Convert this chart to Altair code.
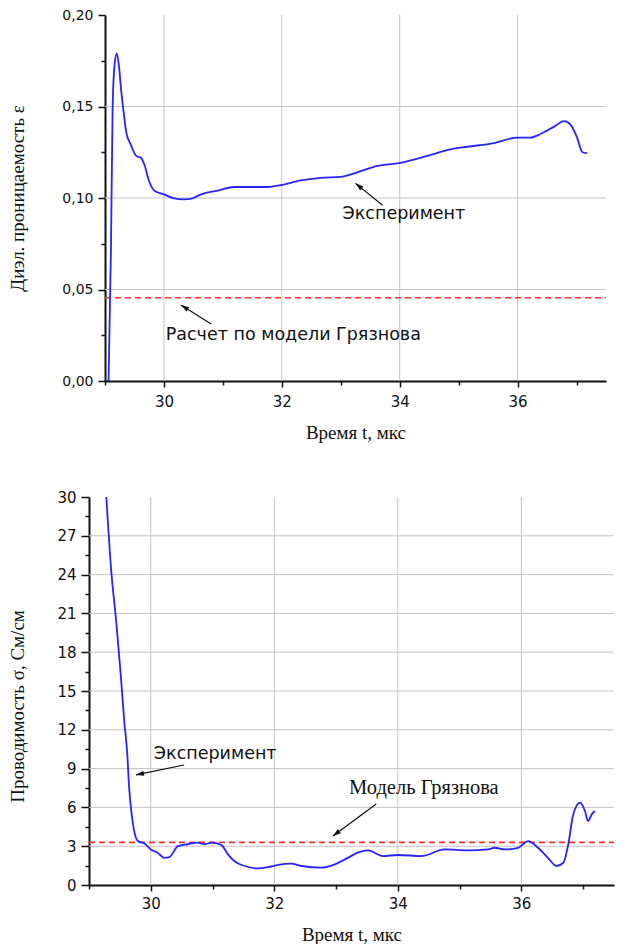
import altair as alt
import pandas as pd

# ---------------- data ----------------
# Top panel: dielectric permittivity vs time
t_eps = [29.06, 29.10, 29.13, 29.16, 29.20, 29.24, 29.28, 29.32, 29.36, 29.44, 29.53,
         29.61, 29.67, 29.75, 29.84, 30.00, 30.17, 30.34, 30.48, 30.63, 30.91, 31.19,
         31.42, 31.76, 31.98, 32.32, 32.66, 33.00, 33.28, 33.62, 33.99, 34.47, 34.86,
         35.15, 35.60, 35.99, 36.22, 36.39, 36.62, 36.79, 36.90, 37.01, 37.10, 37.18]
eps = [0.0, 0.07, 0.15, 0.172, 0.179, 0.171, 0.157, 0.146, 0.136, 0.129, 0.123,
       0.122, 0.118, 0.109, 0.104, 0.102, 0.0998, 0.0992, 0.0998, 0.102, 0.104, 0.106,
       0.106, 0.106, 0.107, 0.1096, 0.111, 0.1115, 0.114, 0.1175, 0.119, 0.123, 0.1266,
       0.128, 0.130, 0.133, 0.133, 0.135, 0.139, 0.142, 0.140, 0.133, 0.125, 0.1245]
eps_model = 0.0455

# Bottom panel: conductivity vs time
t_sig = [29.28, 29.36, 29.44, 29.51, 29.57, 29.62, 29.65, 29.69, 29.73, 29.79, 29.90,
         30.00, 30.11, 30.22, 30.30, 30.44, 30.60, 30.76, 30.87, 30.98, 31.14, 31.25,
         31.35, 31.52, 31.73, 31.90, 32.06, 32.27, 32.44, 32.76, 32.98, 33.19, 33.35,
         33.52, 33.76, 34.00, 34.38, 34.76, 35.14, 35.46, 35.57, 35.73, 35.95, 36.11,
         36.27, 36.43, 36.57, 36.68, 36.76, 36.84, 36.95, 37.03, 37.08, 37.14, 37.19]
sig = [30.0, 24.3, 20.4, 16.5, 12.7, 10.1, 7.5, 5.5, 4.2, 3.4, 3.2,
       2.75, 2.5, 2.1, 2.15, 3.0, 3.15, 3.27, 3.15, 3.27, 3.1, 2.37,
       1.86, 1.47, 1.29, 1.39, 1.55, 1.65, 1.47, 1.34, 1.6, 2.1, 2.5,
       2.68, 2.24, 2.32, 2.24, 2.75, 2.68, 2.75, 2.88, 2.75, 2.88, 3.4,
       2.88, 2.1, 1.47, 1.72, 3.15, 5.46, 6.37, 5.72, 4.95, 5.46, 5.72]
sig_model = 3.3

x_domain = [29, 37.5]
x_ticks = [29, 30, 31, 32, 33, 34, 35, 36, 37]
x_grid = [30, 32, 34, 36]
eps_domain = [0, 0.2]
eps_ticks = [0, 0.025, 0.05, 0.075, 0.1, 0.125, 0.15, 0.175, 0.2]
eps_grid = [0.05, 0.10, 0.15]
sig_domain = [0, 30]
sig_ticks = [0, 1.5, 3, 4.5, 6, 7.5, 9, 10.5, 12, 13.5, 15, 16.5, 18, 19.5, 21,
             22.5, 24, 25.5, 27, 28.5, 30]
sig_grid = [3, 6, 9, 12, 15, 18, 21, 24, 27]

# annotations: (label, t, value)
top_labels = [("Эксперимент", 33.03, 0.0913), ("Расчет по модели Грязнова", 30.03, 0.0251)]
bot_labels_sans = [("Эксперимент", 30.05, 10.13)]
bot_labels_serif = [("Модель Грязнова", 33.21, 7.5)]
# arrows: tail (t, v) -> head (t2, v2)
top_arrows = [(33.71, 0.096, 33.25, 0.108), (30.80, 0.0311, 30.29, 0.0415)]
top_arrow_angles = [309, 302]
bot_arrows = [(30.54, 9.28, 29.76, 8.51), (33.65, 6.26, 32.95, 3.79)]
bot_arrow_angles = [258, 233]

# ---------------- styling ----------------
SANS = "DejaVu Sans"
SERIF = "Liberation Serif"
INK = "#111111"
BLUE = "#2a22ff"
RED = "#ff2a2a"
GRID = "#c4c4c4"
ARROW_PATH = "M0,0L-0.32,1L0.32,1Z"
SHIFT = 16  # top plot starts this many px right of the bottom one


def cond(test, yes, no):
    return {"condition": {"test": test, "value": yes}, "value": no}


X_MAJOR = "datum.value % 2 == 0"
X_LABEL = "datum.value % 2 == 0 ? format(datum.value, 'd') : ''"
EPS_MAJOR = "round(datum.value*1000) % 50 == 0"
SIG_MAJOR = "datum.value % 3 == 0"


def make_panel(t_vals, y_vals, model_val, y_domain, y_ticks, y_grid, y_major,
               y_label_expr, y_title, y_tick, y_label_size, y_title_pad,
               x_label_pad, x_title_pad, width, height, x_offset, y_offset,
               arrows, angles, labels_sans, labels_serif, title_y=None):
    xs = alt.Scale(domain=x_domain, nice=False, zero=False, range=[x_offset, width])
    ys = alt.Scale(domain=y_domain, nice=False, zero=False)
    y_extra = {"titleY": title_y} if title_y is not None else {}
    x_axis = alt.Axis(
        values=x_ticks, title="Время t, мкс", labelExpr=X_LABEL,
        labelFontSize=15, labelPadding=x_label_pad, titlePadding=x_title_pad,
        tickSize=6, tickDash=cond(X_MAJOR, [40, 0], [4, 40]),
        labelOverlap=False, labelFlush=False, grid=False,
    )
    y_axis = alt.Axis(
        values=y_ticks, title=y_title, labelExpr=y_label_expr,
        labelFontSize=y_label_size, labelPadding=5, titlePadding=y_title_pad,
        tickSize=y_tick, tickDash=cond(y_major, [40, 0], [4, 40]),
        labelOverlap=False, labelFlush=False, grid=False, offset=y_offset,
        **y_extra,
    )
    X = lambda f: alt.X(f, type="quantitative", scale=xs, axis=x_axis)
    Y = lambda f: alt.Y(f, type="quantitative", scale=ys, axis=y_axis)

    hgrid = alt.Chart(pd.DataFrame({"v": y_grid, "t": x_domain[0], "t2": x_domain[1]})
                      ).mark_rule(color=GRID, strokeWidth=1).encode(
        x=X("t"), x2="t2", y=Y("v"))
    vgrid = alt.Chart(pd.DataFrame({"t": x_grid, "v": y_domain[0], "v2": y_domain[1]})
                      ).mark_rule(color=GRID, strokeWidth=1).encode(
        x=X("t"), y=Y("v"), y2="v2")
    line = alt.Chart(pd.DataFrame({"t": t_vals, "v": y_vals})).mark_line(
        color=BLUE, strokeWidth=1.8, interpolate="monotone"
    ).encode(x=X("t"), y=Y("v"))
    model = alt.Chart(pd.DataFrame({"t": x_domain, "v": [model_val, model_val]})).mark_line(
        color=RED, strokeWidth=1.7, strokeDash=[6, 4]
    ).encode(x=X("t"), y=Y("v"))

    layers = [hgrid, vgrid, model, line]
    for (t1, v1, t2, v2), ang in zip(arrows, angles):
        df = pd.DataFrame({"t": [t1], "v": [v1], "t2": [t2], "v2": [v2]})
        layers.append(alt.Chart(df).mark_rule(color=INK, strokeWidth=1.2).encode(
            x=X("t"), y=Y("v"), x2="t2", y2="v2"))
        layers.append(alt.Chart(df).mark_point(
            shape=ARROW_PATH, filled=True, color=INK, opacity=1, size=260, angle=ang
        ).encode(x=X("t2"), y=Y("v2")))
    for labels, font, size in ((labels_sans, SANS, 17.5), (labels_serif, SERIF, 20.5)):
        if not labels:
            continue
        df = pd.DataFrame({"label": [l[0] for l in labels],
                           "t": [l[1] for l in labels],
                           "v": [l[2] for l in labels]})
        layers.append(alt.Chart(df).mark_text(
            align="left", baseline="middle", font=font, fontSize=size, color=INK
        ).encode(x=X("t"), y=Y("v"), text="label:N"))
    return alt.layer(*layers).properties(width=width, height=height)


top = make_panel(
    t_eps, eps, eps_model, eps_domain, eps_ticks, eps_grid, EPS_MAJOR,
    EPS_MAJOR + " ? replace(format(datum.value, '.2f'), '.', ',') : ''",
    "Диэл. проницаемость ε", 7, 14, 34, 7, 14, 501 + SHIFT, 366, SHIFT, -SHIFT,
    top_arrows, top_arrow_angles, top_labels, [])

bottom = make_panel(
    t_sig, sig, sig_model, sig_domain, sig_ticks, sig_grid, SIG_MAJOR,
    SIG_MAJOR + " ? format(datum.value, 'd') : ''",
    "Проводимость σ, См/см", 8, 15, 29, 5, 14, 525, 388, 0, 0,
    bot_arrows, bot_arrow_angles, bot_labels_sans, bot_labels_serif, title_y=209)

chart = alt.vconcat(top, bottom, spacing=48).properties(
    padding={"left": 0, "top": 0, "right": 0, "bottom": 0},
    background="white",
).configure_view(stroke=None).configure_axis(
    domainColor=INK, domainWidth=2, tickColor=INK, tickWidth=1.5,
    labelColor=INK, labelFont=SANS, titleFont=SERIF, titleFontSize=19,
    titleFontWeight="normal", titleColor=INK, labelOverlap=False, grid=False,
)

chart.save("out.html", embed_options={"renderer": "svg", "actions": False})
